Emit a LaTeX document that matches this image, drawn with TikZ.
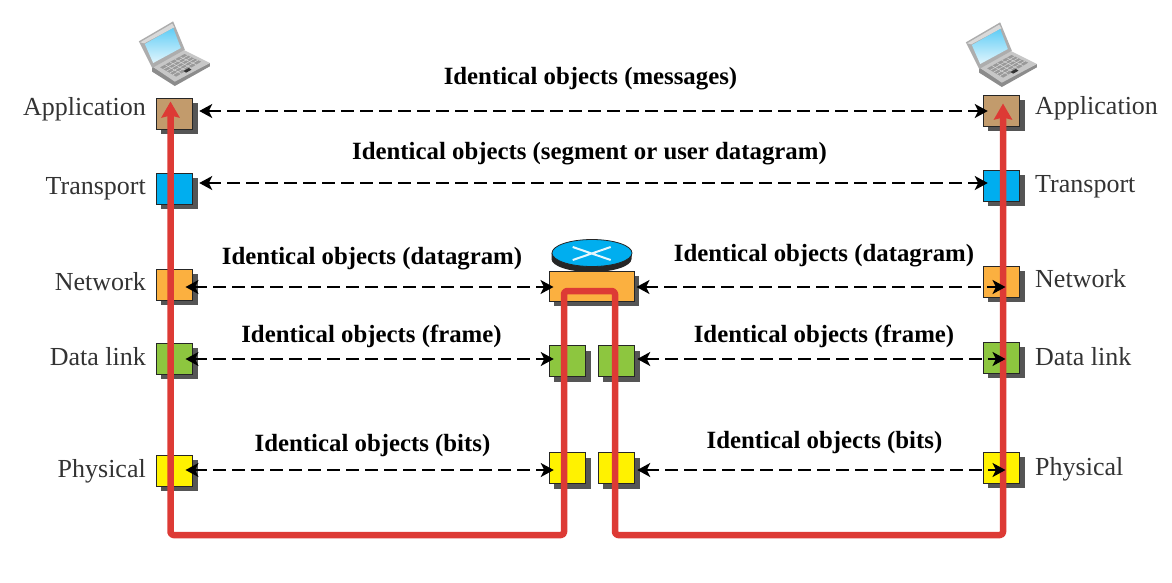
\documentclass[tikz,border=0pt]{standalone}
\usepackage{fontspec}
\setmainfont{Liberation Serif}
\usetikzlibrary{arrows.meta,calc,shadows,shapes.geometric}
\definecolor{cbrown}{HTML}{C29B6C}
\definecolor{cblue}{HTML}{00AEEF}
\definecolor{corange}{HTML}{FBB040}
\definecolor{cgreen}{HTML}{8DC63F}
\definecolor{cyellow}{HTML}{FFF200}
\definecolor{cred}{HTML}{DD3A35}
\definecolor{cshadow}{HTML}{555555}
\definecolor{ctext}{HTML}{333333}
\tikzset{
  x=1pt,y=-1pt,
  layerbox/.style={draw=black!85,line width=1pt,inner sep=0pt,minimum width=36.5pt,minimum height=31pt,
    drop shadow={shadow xshift=5pt,shadow yshift=-5pt,fill=cshadow,opacity=1}},
  obj/.style={font=\fontsize{24.8}{28}\selectfont\bfseries,anchor=base,inner sep=0pt},
  lleft/.style={font=\fontsize{26}{30}\selectfont,text=ctext,anchor=base east,inner sep=0pt},
  lright/.style={font=\fontsize{26}{30}\selectfont,text=ctext,anchor=base west,inner sep=0pt},
  dbl/.style={{Stealth[length=13pt,width=14pt,inset=3.5pt]}-{Stealth[length=13pt,width=14pt,inset=3.5pt]},line width=2pt,dash pattern=on 13pt off 6pt,black},
  redroute/.style={cred,line width=6.5pt,line join=round,rounded corners=3pt,
    {Stealth[length=16pt,width=18pt,inset=2pt]}-{Stealth[length=16pt,width=18pt,inset=2pt]}},
  laptop/.pic={
    \begin{scope}[scale=1/3]
      \fill[black!45] (98,139) -- (166,181) -- (271,129) -- (271,139) -- (166,198) -- (98,155) -- cycle;
      \fill[black!22] (98,139) -- (191,89) -- (271,129) -- (166,185) -- cycle;
      \fill[black!32] (58,64) -- (161,4) -- (196,89) -- (98,144) -- cycle;
      \fill[black!15] (62,67) -- (158,11) -- (165,22) -- (74,70) -- cycle;
      \shade[top color=cblue!62,bottom color=cblue!12] (76,72) -- (161,24) -- (184,84) -- (101,129) -- cycle;
      \fill[black!40] (122,142) -- (195,102) -- (245,125) -- (170,170) -- cycle;
      \foreach \t in {.2,.4,.6,.8}
        \draw[black!15,line width=.5pt] ($(122,142)!\t!(170,170)$) -- ($(195,102)!\t!(245,125)$);
      \foreach \t in {.2,.4,.6,.8}
        \draw[black!15,line width=.5pt] ($(122,142)!\t!(195,102)$) -- ($(170,170)!\t!(245,125)$);
      \fill[black!80] (192,153) -- (208,144) -- (216,149) -- (200,158) -- cycle;
    \end{scope}
  }
}
\begin{document}
\begin{tikzpicture}
\useasboundingbox (0,0) rectangle (1172,582);
\pic at (119.5,20) {laptop};
\pic at (946.5,21) {laptop};
% router disc
\fill[black!85] (551.5,253) -- (551.5,259) arc[x radius=40pt,y radius=13pt,start angle=180,end angle=360] -- (632,253) -- cycle;
\node[draw=black!85,line width=.8pt,fill=cblue,ellipse,inner sep=0pt,minimum width=80pt,minimum height=27pt] (disc) at (592,253) {};
\draw[white!90!cblue,line width=2pt] (572.7,247) -- (610.7,260) (572.7,260) -- (610.7,247);
% left stack
\node[layerbox,fill=cbrown] (la) at (174.5,113.5) {};
\node[layerbox,fill=cblue] (lt) at (174.5,188.5) {};
\node[layerbox,fill=corange] (ln) at (174.5,284.5) {};
\node[layerbox,fill=cgreen] (ld) at (174.5,358.5) {};
\node[layerbox,fill=cyellow] (lp) at (174.5,470.5) {};
% right stack
\node[layerbox,fill=cbrown] (ra) at (1001.5,110.5) {};
\node[layerbox,fill=cblue] (rt) at (1001.5,185.5) {};
\node[layerbox,fill=corange] (rn) at (1001.5,281.5) {};
\node[layerbox,fill=cgreen] (rd) at (1001.5,357.5) {};
\node[layerbox,fill=cyellow] (rp) at (1001.5,467.5) {};
% router
\node[layerbox,fill=corange,minimum width=85pt,minimum height=30pt] (rtr) at (591.5,286) {};
\node[layerbox,fill=cgreen] (g1) at (567.5,361) {};
\node[layerbox,fill=cgreen] (g2) at (616.5,361) {};
\node[layerbox,fill=cyellow] (y1) at (567.5,468) {};
\node[layerbox,fill=cyellow] (y2) at (616.5,468) {};
% labels
\node[lleft] (t1) at (146,115.5) {Application};
\node[lleft] (t2) at (146,194.5) {Transport};
\node[lleft] (t3) at (146,290.5) {Network};
\node[lleft] (t4) at (146,365.5) {Data link};
\node[lleft] (t5) at (146,477.5) {Physical};
\node[lright] (t6) at (1035,114.5) {Application};
\node[lright] (t7) at (1035,192.5) {Transport};
\node[lright] (t8) at (1035,287.5) {Network};
\node[lright] (t9) at (1035,365.5) {Data link};
\node[lright] (t10) at (1035,475.5) {Physical};
\node[obj] (o1) at (590.5,84) {Identical objects (messages)};
\node[obj] (o2) at (589.5,159) {Identical objects (segment or user datagram)};
\node[obj] (o3) at (372,264) {Identical objects (datagram)};
\node[obj] (o4) at (824,261) {Identical objects (datagram)};
\node[obj] (o5) at (371.5,342) {Identical objects (frame)};
\node[obj] (o6) at (824,342) {Identical objects (frame)};
\node[obj] (o7) at (372.5,451) {Identical objects (bits)};
\node[obj] (o8) at (824.5,448) {Identical objects (bits)};
% red route
\coordinate (c1) at (170.5,535);
\coordinate (c2) at (564,535);
\coordinate (c3) at (564,291);
\coordinate (c4) at (615,291);
\coordinate (c5) at (615,535);
\coordinate (c6) at (1003,535);
\draw[redroute] ($(la.north)+(-4,4)$) -- (c1) -- (c2) -- (c3) -- (c4) -- (c5) -- (c6) -- ($(ra.north)+(1.5,9)$);
% dashed connectors
\draw[dbl] ($(la.east)+(6,-2.5)$) -- ($(ra.west)+(5,.5)$);
\draw[dbl] ($(lt.east)+(6,-5.5)$) -- ($(rt.west)+(5,-2.5)$);
\draw[dbl] ($(ln.center)+(11,2.5)$) -- ($(rtr.west)+(5,1)$);
\draw[dbl] ($(rtr.east)+(2,1)$) -- ($(rn.center)+(4,5.5)$);
\draw[dbl] ($(ld.center)+(11,.5)$) -- ($(g1.west)+(5,-2)$);
\draw[dbl] ($(g2.east)+(2,-2)$) -- ($(rd.center)+(4,1.5)$);
\draw[dbl] ($(lp.center)+(11,-.5)$) -- ($(y1.west)+(5,2)$);
\draw[dbl] ($(y2.east)+(2,2)$) -- ($(rp.center)+(4,2.5)$);
\end{tikzpicture}
\end{document}
